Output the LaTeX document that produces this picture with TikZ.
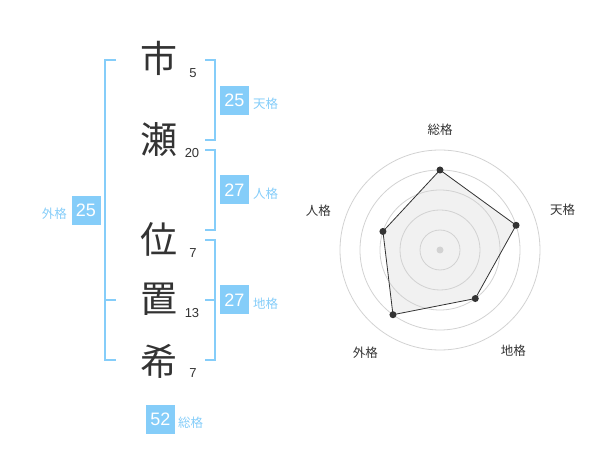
\documentclass[tikz,border=0pt]{standalone}
\usepackage{fontspec}
\setmainfont{Liberation Sans}
\newfontfamily\jfont{Noto Sans CJK JP}
\usepackage{tikz}
\definecolor{skyline}{RGB}{133,205,249}
\definecolor{ink}{RGB}{51,51,51}
\definecolor{ring}{RGB}{210,210,210}
\definecolor{radarfill}{RGB}{241,241,241}
\tikzstyle{kanji}=[text=ink,inner sep=0pt,font=\jfont\fontsize{37}{37}\selectfont]
\tikzstyle{strokes}=[text=ink,inner sep=0pt,font=\fontsize{13}{13}\selectfont]
\tikzstyle{badge}=[fill=skyline,text=white,minimum size=29pt,inner sep=0pt,font=\fontsize{18}{18}\selectfont]
\tikzstyle{kaku}=[text=skyline,inner sep=0pt,font=\jfont\fontsize{12.5}{12.5}\selectfont]
\tikzstyle{kakuline}=[draw=skyline,line width=2pt]
\tikzstyle{vertexdot}=[fill=ink,circle,inner sep=0pt,minimum size=7pt]
\tikzstyle{axislabel}=[text=ink,inner sep=0pt,font=\jfont\fontsize{12.5}{12.5}\selectfont]

\begin{document}
\begin{tikzpicture}[x=1pt,y=-1pt]
  \useasboundingbox (0,0) rectangle (600,470);

  % name and stroke counts
  \node[kanji] (c1) at (159,58) {市};
  \node[kanji] (c2) at (159,140) {瀬};
  \node[kanji] (c3) at (159,239) {位};
  \node[kanji] (c4) at (159,299) {置};
  \node[kanji] (c5) at (159,361) {希};
  \node[strokes] (s1) at (193,73) {5};
  \node[strokes] (s2) at (192,153) {20};
  \node[strokes] (s3) at (193,253) {7};
  \node[strokes] (s4) at (192,313) {13};
  \node[strokes] (s5) at (193,373) {7};

  % brackets
  \draw[kakuline] (116,60) -- (105,60) -- (105,360) -- (116,360);
  \draw[kakuline] (105,300) -- (116,300);
  \draw[kakuline] (205,60) -- (215,60) -- (215,140) -- (205,140);
  \draw[kakuline] (205,150) -- (215,150) -- (215,230) -- (205,230);
  \draw[kakuline] (205,240) -- (215,240) -- (215,360) -- (205,360);
  \draw[kakuline] (215,300) -- (205,300);

  % scores
  \node[badge] (ten) at (234.5,100.5) {25};
  \node[kaku,anchor=west] (tenl) at (253,104) {天格};
  \node[badge] (jin) at (234.5,190) {27};
  \node[kaku,anchor=west] (jinl) at (253,194) {人格};
  \node[badge] (chi) at (234.5,300) {27};
  \node[kaku,anchor=west] (chil) at (253,304) {地格};
  \node[badge] (gai) at (86,210.5) {25};
  \node[kaku,anchor=east] (gail) at (67,214) {外格};
  \node[badge] (sou) at (160.5,419.5) {52};
  \node[kaku,anchor=west] (soul) at (178,423) {総格};

  % radar
  \begin{scope}[shift={(440,250)}]
    \foreach \ang/\val/\lab/\lr [count=\k] in {-90/80/総格/120,-18/80/天格/129,54/60/地格/125,126/80/外格/127,198/60/人格/128}{
      \coordinate (p\k) at (\ang:\val);
      \node[axislabel] (l\k) at (\ang:\lr) {\lab};
    }
    \fill[radarfill] (p1) -- (p2) -- (p3) -- (p4) -- (p5) -- cycle;
    \foreach \r in {20,40,...,100}{
      \draw[ring,line width=0.8pt] (0,0) circle (\r);
    }
    \fill[ring] (0,0) circle (3.5);
    \draw[ink,line width=0.8pt] (p1) -- (p2) -- (p3) -- (p4) -- (p5) -- cycle;
    \foreach \k in {1,...,5}{
      \node[vertexdot] (d\k) at (p\k) {};
    }
  \end{scope}
\end{tikzpicture}
\end{document}
